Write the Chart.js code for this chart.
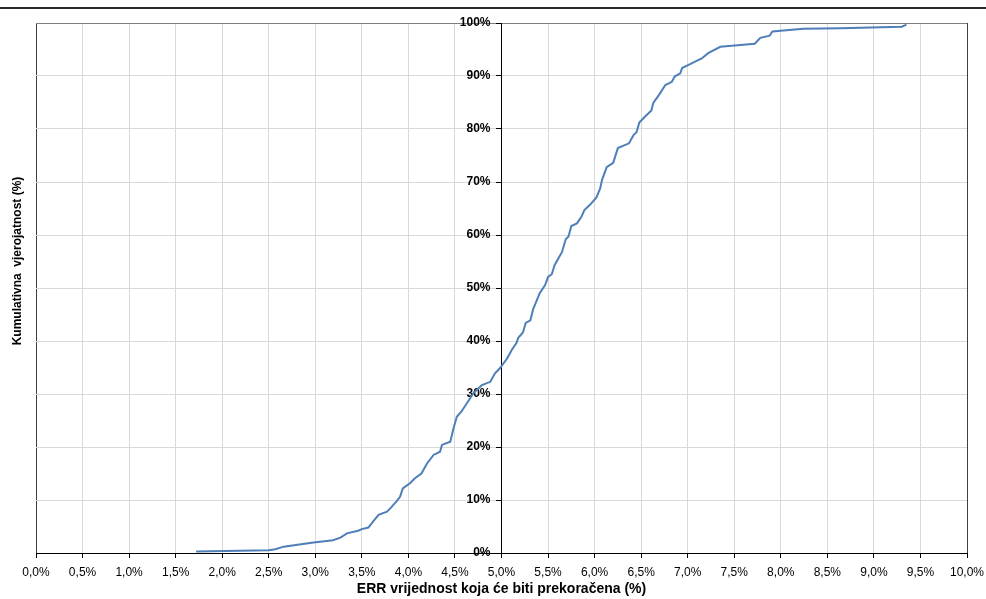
<!DOCTYPE html>
<html>
<head>
<meta charset="utf-8">
<script src="https://cdn.jsdelivr.net/npm/chart.js@4/dist/chart.umd.min.js"></script>
<style>
  body { margin: 0; background: #fff; }
  #wrap { position: relative; width: 986px; height: 599px; }
  #topLine { position: absolute; left: 0; top: 7px; width: 986px; height: 0; border-top: 2px solid #2a2a2a; }
  #grafico { position: absolute; left: 0; top: 0; }
</style>
</head>
<body>
<div id="wrap">
  <canvas id="grafico" width="986" height="599"></canvas>
  <div id="topLine"></div>
</div>
<script>
// ERR (%) i kumulativna vjerojatnost (%) ocitano sa slike
var errVrijednost = [1.72, 2.50, 2.57, 2.66, 2.98, 3.19, 3.27, 3.34, 3.46, 3.50, 3.57, 3.62, 3.68, 3.77, 3.82, 3.87, 3.91, 3.94,
    4.02, 4.07, 4.14, 4.20, 4.27, 4.34, 4.36, 4.45, 4.48, 4.52, 4.57, 4.63, 4.70, 4.79, 4.88, 4.93, 4.98,
    5.06, 5.11, 5.16, 5.18, 5.23, 5.26, 5.31, 5.34, 5.41, 5.47, 5.50, 5.54, 5.57, 5.65, 5.69, 5.72, 5.75,
    5.81, 5.86, 5.89, 5.95, 6.02, 6.06, 6.08, 6.13, 6.20, 6.25, 6.37, 6.42, 6.45, 6.48, 6.54, 6.61, 6.63,
    6.69, 6.76, 6.83, 6.86, 6.92, 6.94, 7.02, 7.15, 7.22, 7.35, 7.72, 7.78, 7.88, 7.91, 8.24, 8.64, 9.30, 9.35];
var kumulativna = [0.3, 0.5, 0.7, 1.2, 2.0, 2.4, 2.9, 3.7, 4.2, 4.5, 4.8, 5.9, 7.2, 7.8, 8.7, 9.7, 10.6, 12.2,
    13.2, 14.1, 15.0, 16.9, 18.5, 19.1, 20.4, 21.0, 23.2, 25.7, 26.7, 28.3, 30.2, 31.7, 32.3, 33.9, 34.8,
    36.7, 38.3, 39.6, 40.6, 41.6, 43.4, 43.9, 46.0, 49.0, 50.6, 52.1, 52.6, 54.3, 56.8, 59.2, 59.7, 61.7,
    62.2, 63.5, 64.7, 65.7, 67.1, 68.8, 70.4, 72.8, 73.6, 76.4, 77.3, 78.9, 79.4, 81.2, 82.3, 83.5, 84.9,
    86.4, 88.3, 88.9, 89.9, 90.5, 91.5, 92.2, 93.3, 94.3, 95.5, 96.1, 97.2, 97.6, 98.4, 98.9, 99.0, 99.3, 99.7];

var xMin = 0, xMax = 10, xKorak = 0.5;
var yMin = 0, yMax = 100, yKorak = 10;
var naslovX = 'ERR vrijednost koja će biti prekoračena (%)';
var naslovY = 'Kumulativna  vjerojatnost (%)';

var tocke = errVrijednost.map(function(x, i) { return { x: x, y: kumulativna[i] }; });

// naslov y osi crta se posebno (os je u sredini)
var naslovYPlugin = {
    id: 'naslovY',
    afterDraw: function(chart) {
        var ctx = chart.ctx;
        ctx.save();
        ctx.translate(18, 261);
        ctx.rotate(-Math.PI / 2);
        ctx.font = 'bold 12px "Liberation Sans", Arial, sans-serif';
        ctx.fillStyle = '#000';
        ctx.textAlign = 'center';
        ctx.textBaseline = 'middle';
        ctx.fillText(naslovY, 0, 0);
        ctx.restore();
    }
};

var bijelaPozadina = {
    id: 'pozadina',
    beforeDraw: function(chart) {
        var ctx = chart.ctx;
        ctx.save();
        ctx.fillStyle = '#fff';
        ctx.fillRect(0, 0, chart.width, chart.height);
        ctx.restore();
    }
};

new Chart(document.getElementById('grafico'), {
    type: 'scatter',
    data: {
        datasets: [{
            data: tocke,
            showLine: true,
            borderColor: '#4f7fb8',
            borderWidth: 2,
            pointRadius: 0,
            tension: 0,
            fill: false
        }]
    },
    options: {
        responsive: false,
        animation: false,
        layout: { padding: { left: 36, right: 19, top: 23, bottom: 0 } },
        plugins: { legend: { display: false }, tooltip: { enabled: false } },
        scales: {
            x: {
                type: 'linear', min: xMin, max: xMax,
                afterFit: function(s) { s.height = 46; s.paddingLeft = 0; s.paddingRight = 0; },
                ticks: {
                    stepSize: xKorak, padding: 7, color: '#000',
                    font: { family: '"Liberation Sans", Arial, sans-serif', size: 12 },
                    maxRotation: 0,
                    callback: function(v) { return v.toFixed(1).replace('.', ',') + '%'; }
                },
                grid: {
                    color: function(c) {
                        var v = c.tick ? c.tick.value : null;
                        return (v === xMin || v === xMax) ? '#404040' : '#d9d9d9';
                    },
                    tickColor: '#000', tickLength: 5, drawTicks: true
                },
                border: { color: '#000', width: 1 },
                title: {
                    display: true, text: naslovX, color: '#000',
                    font: { family: '"Liberation Sans", Arial, sans-serif', size: 14, weight: 'bold' },
                    padding: { top: 0, bottom: 1 }
                }
            },
            y: {
                type: 'linear', position: 'center', min: yMin, max: yMax,
                ticks: {
                    stepSize: yKorak, padding: 6, color: '#000',
                    font: { family: '"Liberation Sans", Arial, sans-serif', size: 12, weight: 'bold' },
                    callback: function(v) { return v + '%'; }
                },
                grid: {
                    color: function(c) {
                        var v = c.tick ? c.tick.value : null;
                        return v === yMax ? '#7f7f7f' : '#d9d9d9';
                    },
                    tickColor: '#000', tickLength: 5
                },
                border: { color: '#000', width: 1 }
            }
        }
    },
    plugins: [bijelaPozadina, naslovYPlugin]
});
</script>
</body>
</html>
